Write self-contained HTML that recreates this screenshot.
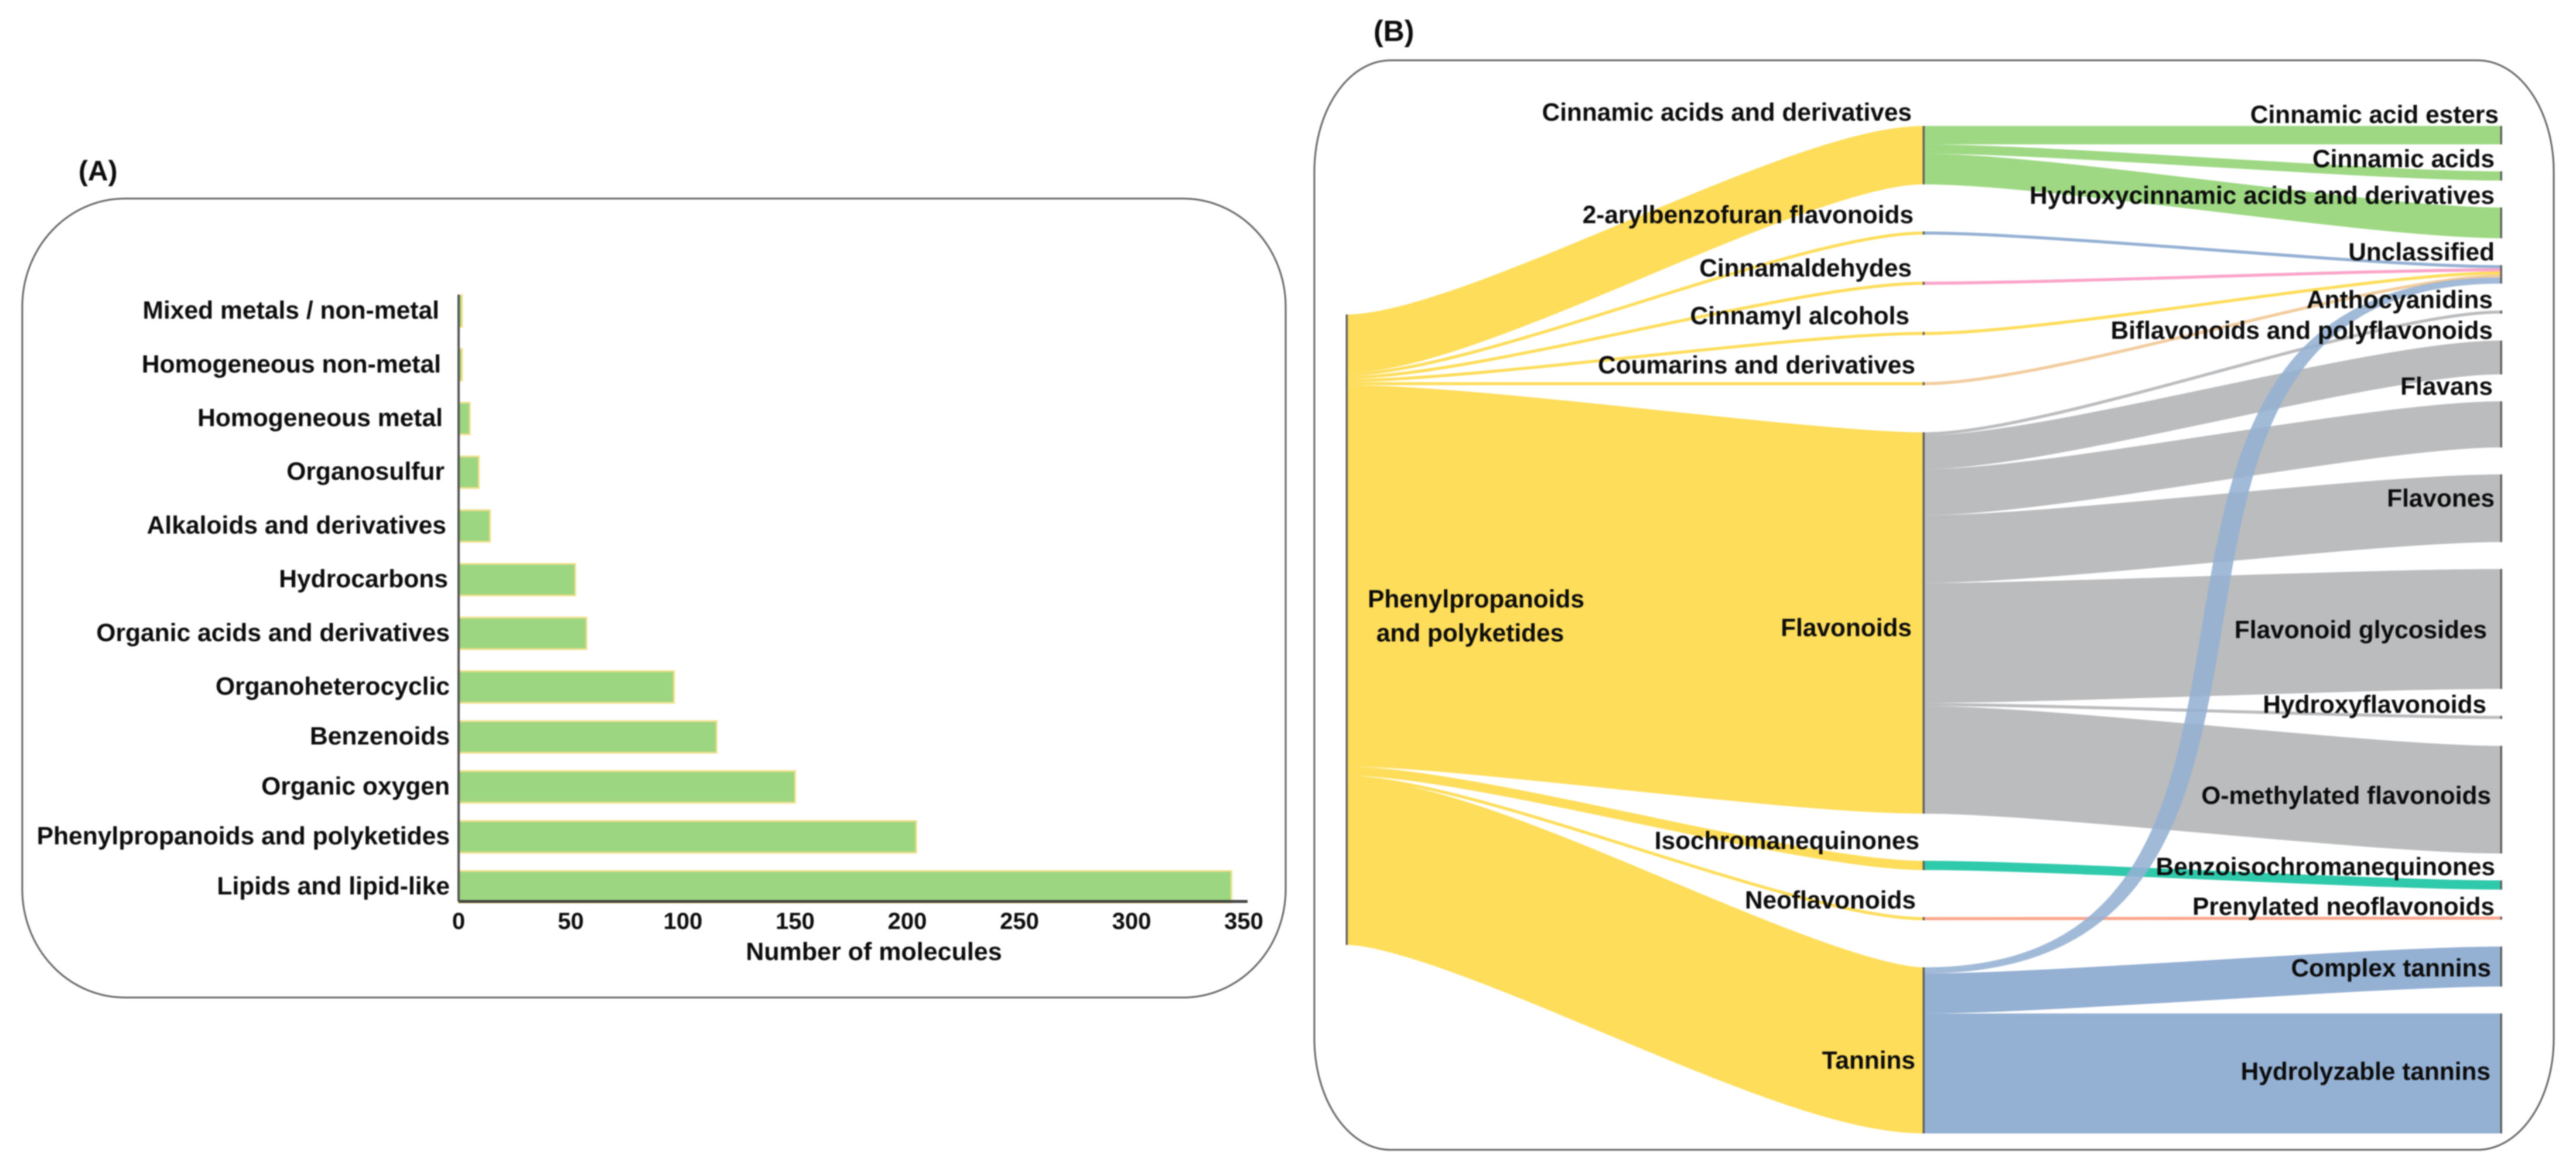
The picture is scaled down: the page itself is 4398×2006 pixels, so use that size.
<!DOCTYPE html>
<html lang="en">
<head>
<meta charset="utf-8">
<title>Molecule classes and phenylpropanoid sankey</title>
<style>
html,body{margin:0;padding:0;background:#fff;width:4398px;height:2006px;overflow:hidden}
svg{display:block;filter:blur(1px)}
text{font-family:"Liberation Sans",Arial,sans-serif;font-weight:bold;fill:#0c0c0c}
</style>
</head>
<body>
<svg id="fig" xmlns="http://www.w3.org/2000/svg" width="4398" height="2006" viewBox="0 0 4398 2006">
  <rect width="4398" height="2006" fill="#fff"/>
  <text x="134" y="308" font-size="48">(A)</text>
  <rect x="38" y="339" width="2157" height="1364" rx="175" ry="185" fill="none" stroke="#666" stroke-width="3"/>
  <text x="2345" y="70" font-size="50">(B)</text>
  <rect x="2244" y="103" width="2116" height="1860" rx="130" ry="190" fill="none" stroke="#666" stroke-width="3"/>
  <g id="bars"></g>
  <g id="sankey"></g>
</svg>
<script>
/* ---------- Panel A data ---------- */
const barCategories = ["Lipids and lipid-like","Phenylpropanoids and polyketides","Organic oxygen","Benzenoids","Organoheterocyclic","Organic acids and derivatives","Hydrocarbons","Alkaloids and derivatives","Organosulfur","Homogeneous metal","Homogeneous non-metal","Mixed metals / non-metal"];
const barValues = [344.5,204,150,115,96,57,52,14,9,5,1.5,1.5];
const xTicks = [0,50,100,150,200,250,300,350];
const xTitle = "Number of molecules";

/* ---------- Panel B data ---------- */
const col0Nodes = ["Phenylpropanoids and polyketides"];
const col1Nodes = ["Cinnamic acids and derivatives","2-arylbenzofuran flavonoids","Cinnamaldehydes","Cinnamyl alcohols","Coumarins and derivatives","Flavonoids","Isochromanequinones","Neoflavonoids","Tannins"];
const col2Nodes = ["Cinnamic acid esters","Cinnamic acids","Hydroxycinnamic acids and derivatives","Unclassified","Anthocyanidins","Biflavonoids and polyflavonoids","Flavans","Flavones","Flavonoid glycosides","Hydroxyflavonoids","O-methylated flavonoids","Benzoisochromanequinones","Prenylated neoflavonoids","Complex tannins","Hydrolyzable tannins"];
/* values into each class of the middle column */
const col1Values = [19,1,1,1,1,124,3,1,54];
/* class to subclass flows */
const flowSource = [0,0,0,1,2,3,4,8,5,5,5,5,5,5,5,6,7,8,8];
const flowTarget = [0,1,2,3,3,3,3,3,4,5,6,7,8,9,10,11,12,13,14];
const flowValues = [6,3,10,1,1,1,1,2,1,11,15,22,39,1,35,3,1,13,39];

const NS = "http://www.w3.org/2000/svg";
function slug(s){return s.toLowerCase().replace(/[^a-z0-9]+/g,"-").replace(/^-|-$/g,"");}
function make(parent,tag,attrs,txt){
  const el=document.createElementNS(NS,tag);
  for(const k in attrs) el.setAttribute(k,attrs[k]);
  if(txt!==undefined) el.textContent=txt;
  parent.appendChild(el);
  return el;
}

/* ---------- Panel A drawing ---------- */
const barsG=document.getElementById("bars");
const x0Px=783, pxPerUnit=3.83, barH=54, axisY=1539;
function xScale(v){return x0Px+v*pxPerUnit;}
/* band spacing in the source figure is tighter in the lower third */
function yBand(i){return i<=4 ? 1514-85.3*i : 1173-91.7*(i-4);}

barCategories.forEach(function(cat,i){
  const r=make(barsG,"rect",{x:xScale(0),y:yBand(i)-barH/2,width:xScale(barValues[i])-xScale(0),height:barH,fill:"#9dd681",stroke:"#f0e08c","stroke-width":3});
  
  
  const t=make(barsG,"text",{x:768-Math.max(0,i-5)*3,y:yBand(i)+13,"font-size":42.6,"text-anchor":"end"},cat);
  
  
});
const yAxis=make(barsG,"line",{x1:x0Px,x2:x0Px,y1:503,y2:axisY,stroke:"#555","stroke-width":4});


const xAxis=make(barsG,"line",{x1:x0Px,x2:2130,y1:axisY,y2:axisY,stroke:"#444","stroke-width":5});


xTicks.forEach(function(v){
  const t=make(barsG,"text",{x:xScale(v),y:1586,"font-size":40,"text-anchor":"middle"},String(v));
  
  
});
const xT=make(barsG,"text",{x:1492,y:1639,"font-size":43,"text-anchor":"middle"},xTitle);



/* ---------- Panel B layout ---------- */
const sank=document.getElementById("sankey");
const colX=[2299,3284,4270], topY=215, bottomY=1935, unitPx=5.25, bendFrac=0.22;
const YELLOW="#fedd5a",GREEN="#9ed883",GRAY="#bbbcbe",BLUE="#94b0d3",TEAL="#2fc9ab",SALMON="#fba58c",PINK="#fba3c9",PEACH="#f2cc9d";
const sourceColors=[GREEN,BLUE,PINK,YELLOW,PEACH,GRAY,TEAL,SALMON,BLUE];

function stackColumn(values){
  const total=values.reduce(function(a,b){return a+b;},0);
  const h=total*unitPx, free=(bottomY-topY)-h;
  const pad=values.length>1?free/(values.length-1):0;
  let y=values.length>1?topY:topY+free/2;
  return values.map(function(v){const n={y:y,h:v*unitPx,used:0};y+=n.h+pad;return n;});
}
const col0Values=[col1Values.reduce(function(a,b){return a+b;},0)];
const col2Values=col2Nodes.map(function(_,i){
  return flowValues.reduce(function(a,v,j){return a+(flowTarget[j]===i?v:0);},0);
});
const n0=stackColumn(col0Values), n1=stackColumn(col1Values), n2=stackColumn(col2Values);

/* ordinary links are stroked centre-lines with short bends at both ends */
function drawLink(xa,ya,xb,yb,h,color){
  const dx=xb-xa;
  if(Math.abs(yb-ya)>dx){
    const c=0.8, d=22, c1=xa+dx*c, c2=xb-dx*c;
    return make(sank,"path",{d:"M"+xa+","+ya+"C"+(c1-d)+","+ya+" "+(c2-d)+","+yb+" "+xb+","+yb+
      "L"+xb+","+(yb+h)+"C"+(c2+d)+","+(yb+h)+" "+(c1+d)+","+(ya+h)+" "+xa+","+(ya+h)+"Z",
      fill:color,"fill-opacity":0.88});
  }
  const c1=xa+dx*bendFrac, c2=xb-dx*bendFrac, y0=ya+h/2, y1=yb+h/2;
  return make(sank,"path",{d:"M"+xa+","+y0+"C"+c1+","+y0+" "+c2+","+y1+" "+xb+","+y1,
    fill:"none",stroke:color,"stroke-width":h});
}

/* links: root to classes */
col1Nodes.forEach(function(name,i){
  const h=col1Values[i]*unitPx, s=n0[0], t=n1[i];
  const ya=s.y+s.used; s.used+=h;
  const yb=t.y+t.used;
  const p=drawLink(colX[0],ya,colX[1],yb,h,YELLOW);
  
  
});
/* links: classes to subclasses, steep ones drawn on top */
const geo=flowValues.map(function(_,j){
  const h=flowValues[j]*unitPx, s=n1[flowSource[j]], t=n2[flowTarget[j]];
  const ya=s.y+s.used; s.used+=h;
  const yb=t.y+t.used; t.used+=h;
  return {j:j,h:h,ya:ya,yb:yb};
});
geo.slice().sort(function(a,b){
  return (Math.abs(a.yb-a.ya)>986?1:0)-(Math.abs(b.yb-b.ya)>986?1:0);
}).forEach(function(g){
  const p=drawLink(colX[1],g.ya,colX[2],g.yb,g.h,sourceColors[flowSource[g.j]]);
  
  
});

/* node bars */
[n0,n1,n2].forEach(function(col,c){
  const names=[col0Nodes,col1Nodes,col2Nodes][c];
  col.forEach(function(n,i){
    const r=make(sank,"rect",{x:colX[c]-1.5,y:n.y,width:3.5,height:n.h,fill:"#5f5f5f"});
    
    
  });
});

/* label placement: offset from node top (baseline) and right edge, kept apart from the data */
const col1LabelDy=[-9,-14,-9,-13,-15,348,-20,-15,173];
const col1LabelX=[3264,3267,3264,3260,3270,3264,3277,3271,3270];
const col2LabelDy=[-5,-7,-6,-8,-4,-3,-11,55,118,-5,99,-9,-3,51,113];
const col2LabelX=[4266,4259,4259,4259,4256,4256,4256,4259,4246,4245,4253,4260,4259,4253,4252];
col1Nodes.forEach(function(name,i){
  const t=make(sank,"text",{x:col1LabelX[i],y:n1[i].y+col1LabelDy[i],"font-size":42.4,"text-anchor":"end"},name);
  
  
});
col2Nodes.forEach(function(name,i){
  const t=make(sank,"text",{x:col2LabelX[i],y:n2[i].y+col2LabelDy[i],"font-size":42.4,"text-anchor":"end"},name);
  
  
});
const rootWords=col0Nodes[0].split(" and ");
const r1=make(sank,"text",{x:2520,y:1037,"font-size":42.4,"text-anchor":"middle"},rootWords[0]);


const r2=make(sank,"text",{x:2510,y:1095,"font-size":42.4,"text-anchor":"middle"},"and "+rootWords[1]);


</script>
</body>
</html>
